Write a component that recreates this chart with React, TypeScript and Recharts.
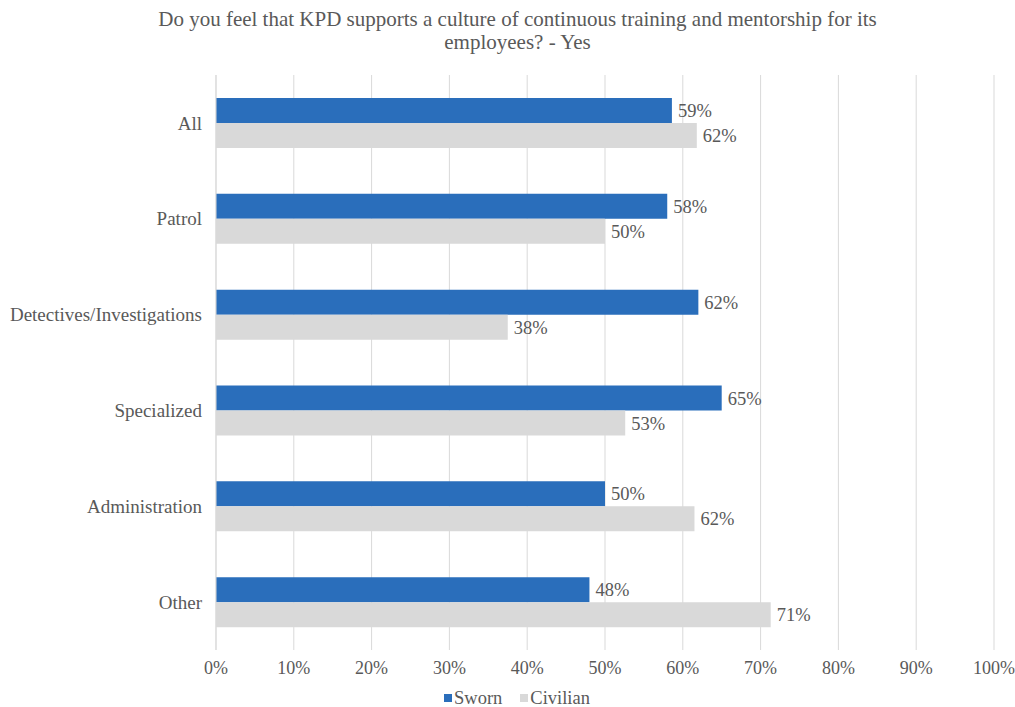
import { Bar, BarChart, CartesianGrid, LabelList, XAxis, YAxis } from 'recharts'

const categories = ['All', 'Patrol', 'Detectives/Investigations', 'Specialized', 'Administration', 'Other']
const sworn = [58.6, 58, 62, 65, 50, 48]
const civilian = [61.8, 50, 37.5, 52.6, 61.5, 71.3]
const xTicks = [0, 10, 20, 30, 40, 50, 60, 70, 80, 90, 100]

const series = [
  { key: 'sworn', name: 'Sworn', color: '#2a6ebb' },
  { key: 'civilian', name: 'Civilian', color: '#d9d9d9' },
]

const data = categories.map((name, i) => ({ name, sworn: sworn[i], civilian: civilian[i] }))

const FONT = '"Liberation Serif", "Times New Roman", serif'
const TEXT = '#595959'

const pct = (v: any) => `${Math.round(Number(v))}%`

export default function App() {
  return (
    <div style={{ position: 'absolute', left: 0, top: 0, width: 1015, height: 707, background: '#fff', fontFamily: FONT }}>
      <div
        style={{
          position: 'absolute', top: 8, left: 0, width: 1035, textAlign: 'center',
          fontSize: 21, lineHeight: '23px', color: TEXT,
        }}
      >
        Do you feel that KPD supports a culture of continuous training and mentorship for its
        <br />
        employees? - Yes
      </div>
      <BarChart
        width={1015}
        height={707}
        data={data}
        layout="vertical"
        barCategoryGap="24%"
        barGap={0}
        margin={{ top: 75, right: 21, bottom: 27, left: 0 }}
      >
        <CartesianGrid horizontal={false} stroke="#d9d9d9" />
        <XAxis
          type="number"
          domain={[0, 100]}
          ticks={xTicks}
          tickFormatter={(v) => `${v}%`}
          axisLine={false}
          tickLine={false}
          tickMargin={5}
          interval={0}
          tick={{ fontSize: 18, fill: TEXT, fontFamily: FONT }}
        />
        <YAxis
          type="category"
          dataKey="name"
          width={216}
          axisLine={{ stroke: '#d9d9d9' }}
          tickLine={false}
          tickMargin={8}
          interval={0}
          tick={{ fontSize: 19, fill: TEXT, fontFamily: FONT }}
        />
        {series.map((s) => (
          <Bar key={s.key} dataKey={s.key} name={s.name} fill={s.color} isAnimationActive={false}>
            <LabelList
              dataKey={s.key}
              position="right"
              offset={6}
              formatter={pct}
              style={{ fontSize: 18.5, fill: TEXT, fontFamily: FONT }}
            />
          </Bar>
        ))}
      </BarChart>
      <div
        style={{
          position: 'absolute', top: 687, left: 0, width: 1052, display: 'flex', justifyContent: 'center',
          fontSize: 18.5, color: TEXT, lineHeight: '22px',
        }}
      >
        {series.map((s) => (
          <span key={s.key} style={{ display: 'inline-flex', alignItems: 'center', marginRight: 18 }}>
            <span style={{ width: 8, height: 8, background: s.color, display: 'inline-block', marginRight: 2 }} />
            {s.name}
          </span>
        ))}
      </div>
    </div>
  )
}
